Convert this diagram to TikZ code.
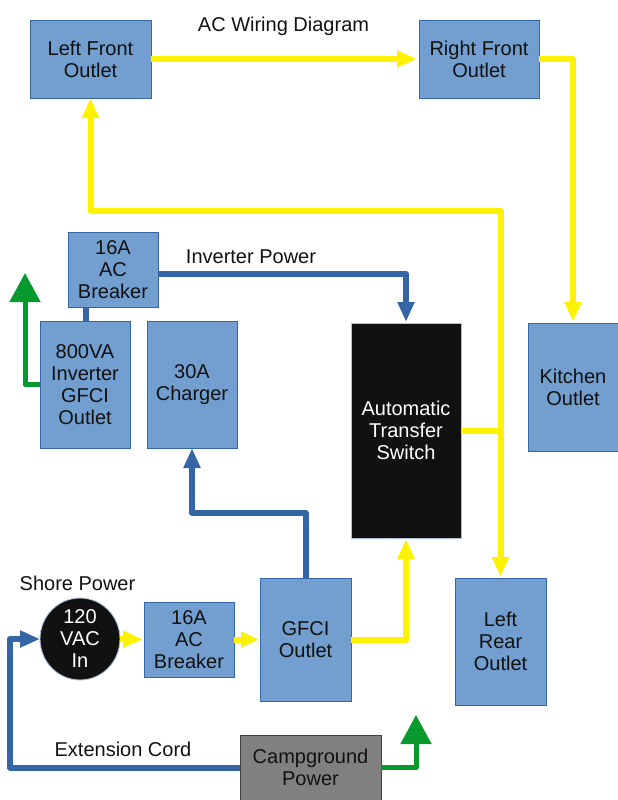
\documentclass[tikz,border=0pt]{standalone}
\usepackage{fontspec}
\setmainfont{Liberation Sans}
\usetikzlibrary{arrows.meta,calc,shapes.geometric}
\definecolor{boxfill}{HTML}{729FCF}
\definecolor{boxedge}{HTML}{3465A4}
\definecolor{wireblue}{HTML}{3465A4}
\definecolor{wiregreen}{HTML}{069A2E}
\definecolor{inktext}{HTML}{111111}
\tikzset{
  unit/.style={draw=boxedge,fill=boxfill,line width=0.9pt,inner sep=0pt,outer sep=0pt,
    align=center,text=inktext,font=\fontsize{20}{22}\selectfont},
  darkunit/.style={unit,fill=inktext,text=white,draw=boxedge!40!white},
  grayunit/.style={unit,fill=black!50,draw=black!75},
  caption/.style={text=inktext,font=\fontsize{20}{22}\selectfont,inner sep=0pt},
  wire/.style={line width=6pt,line join=round},
  hotwire/.style={wire,color=yellow},
  bluewire/.style={wire,color=wireblue},
  greenwire/.style={line width=5pt,line join=round,color=wiregreen},
  tip/.style={-{Triangle[length=20pt,width=16pt]}},
  bigtip/.style={-{Triangle[length=29pt,width=30pt]}},
}
\begin{document}
\begin{tikzpicture}[x=1pt,y=-1pt]
\useasboundingbox (0,0) rectangle (618,800);

% Connection points that are not on a box
\coordinate (bus) at (500.5,211);
\coordinate (exportA) at (25,273);
\coordinate (exportB) at (416,715);
\coordinate (cordturn) at (10,767.5);
\coordinate (chargerturn) at (192,513);
\coordinate (invout) at (158,274);

% Wires that run behind the boxes
\draw[bluewire] (86,300) -- (86,330);

% Outlets, breakers and other units
\node[unit,minimum width=121pt,minimum height=78pt] (lf) at (90.5,59) {Left Front\\Outlet};
\node[unit,minimum width=120pt,minimum height=78pt] (rf) at (479,59) {Right Front\\Outlet};
\node[unit,minimum width=90pt,minimum height=75pt] (acb) at (113,269.5) {16A\\AC\\Breaker};
\node[unit,minimum width=90pt,minimum height=127pt] (inv) at (85,384.5) {800VA\\Inverter\\GFCI\\Outlet};
\node[unit,minimum width=90pt,minimum height=127pt] (chg) at (192,384.5) {30A\\Charger};
\node[darkunit,minimum width=110pt,minimum height=215pt] (ats) at (406,430.5) {Automatic\\Transfer\\Switch};
\node[unit,minimum width=90pt,minimum height=128pt] (kit) at (573,387) {Kitchen\\Outlet};
\node[darkunit,ellipse,minimum width=80pt,minimum height=76pt] (vac) at (80,639) {120\\VAC\\In};
\node[unit,minimum width=90pt,minimum height=75pt] (brk) at (189,639.5) {16A\\AC\\Breaker};
\node[unit,minimum width=91pt,minimum height=123pt] (gfci) at (305.5,639.5) {GFCI\\Outlet};
\node[unit,minimum width=91pt,minimum height=127pt] (rear) at (500.5,641.5) {Left\\Rear\\Outlet};
\node[grayunit,minimum width=141pt,minimum height=65pt] (camp) at (310.5,767.5) {Campground\\Power};

% Captions
\node[caption] (title) at (283.5,26) {AC Wiring Diagram};
\node[caption] (invcap) at (251,257) {Inverter Power};
\node[caption] (shorecap) at (77.5,583) {Shore Power};
\node[caption] (cordcap) at (123,749) {Extension Cord};

% Yellow: shore and transfer switch feeds
\draw[hotwire,tip,shorten >=2pt] (lf.east) -- (rf.west);
\draw[hotwire,tip,shorten >=1pt] (rf.east) -| (kit.north);
\draw[hotwire] (ats.east) -- coordinate[pos=1] (tee) (rear.north|-ats.east);
\draw[hotwire,tip,shorten >=1pt] (tee) -- (rear.north);
\draw[hotwire,tip] (tee) -- (bus) -| (lf.south);
\draw[hotwire,tip,shorten >=1pt] (gfci.east) -| (ats.south);
\draw[hotwire,tip,shorten >=1pt] (vac.east) -- (brk.west);
\draw[hotwire,-{Triangle[length=18pt,width=15pt]},shorten >=1pt] (brk.east) -- (gfci.west);

% Blue: inverter, charger and extension cord
\draw[bluewire,tip,shorten >=1pt] (invout) -| (ats.north);
\draw[bluewire,tip] (gfci.north) |- (chargerturn) -- (chg.south);
\draw[bluewire,tip] (camp.west) -- (cordturn) |- (vac.west);

% Green: ground returns
\draw[greenwire,bigtip] (inv.west) -| (exportA);
\draw[greenwire,bigtip] (camp.east) -| (exportB);
\end{tikzpicture}
\end{document}
